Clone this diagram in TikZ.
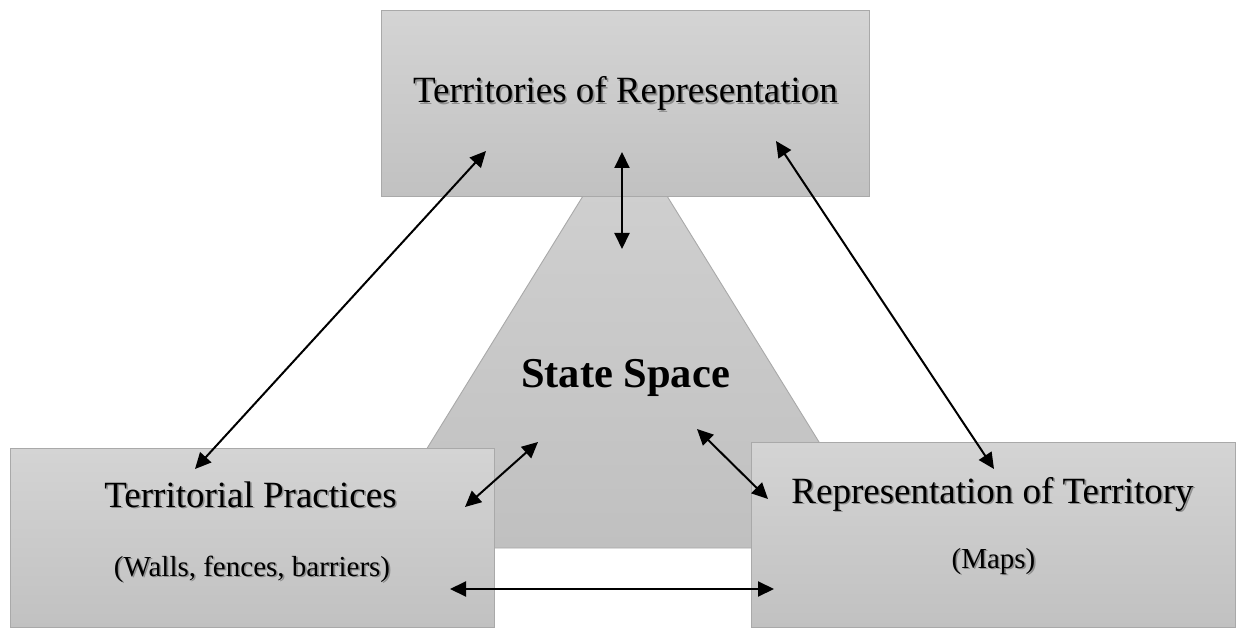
\documentclass[tikz,border=0pt]{standalone}
\usepackage{fontspec}
\setmainfont{Liberation Serif}
\usetikzlibrary{arrows.meta}

\definecolor{boxtop}{HTML}{D4D4D4}
\definecolor{boxbot}{HTML}{C1C1C1}
\definecolor{boxline}{HTML}{A9A9A9}
\definecolor{traptop}{HTML}{CFCFCF}
\definecolor{trapbot}{HTML}{C0C0C0}
\definecolor{textshade}{HTML}{8E8E8E}

\tikzset{
  panel/.style={draw=boxline, line width=0.9pt, top color=boxtop, bottom color=boxbot,
                anchor=north west, inner sep=0pt},
  caption/.style={anchor=base, inner sep=0pt, text=black},
  big/.style={font=\fontsize{37}{42}\selectfont},
  small/.style={font=\fontsize{29}{34}\selectfont},
  link/.style={line width=2pt, {Triangle[length=16pt,width=15pt]}-{Triangle[length=16pt,width=15pt]}},
}

% text with a soft grey drop shadow below and to the right
\newcommand{\shadedtext}[1]{%
  \makebox[0pt][l]{\hspace*{1.6pt}\raisebox{-1.6pt}{\textcolor{textshade}{#1}}}#1}

\begin{document}
\begin{tikzpicture}[x=1pt, y=-1pt]
  \useasboundingbox (0,0) rectangle (1242,628);
  \fill[white] (0,0) rectangle (1242,628);

  % central state space (trapezoid behind the panels)
  \path[draw=boxline, line width=0.9pt, top color=traptop, bottom color=trapbot]
    (586.7,190) -- (663.3,190) -- (884.5,548) -- (365.5,548) -- cycle;

  % panels
  \node[panel, minimum width=488pt, minimum height=186pt] (tor) at (381,10) {};
  \node[panel, minimum width=484pt, minimum height=179pt] (tp)  at (10,448) {};
  \node[panel, minimum width=484pt, minimum height=185pt] (rot) at (751,442) {};

  % texts
  \node[caption, big] (torlabel) at (625.5,103) {\shadedtext{Territories of Representation}};
  \node[caption, font=\fontsize{42.5}{46}\selectfont\bfseries] (state) at (625.5,387) {State Space};
  \node[caption, big] (tplabel) at (250.5,507) {\shadedtext{Territorial Practices}};
  \node[caption, small] (tpnote) at (252,576) {\shadedtext{(Walls, fences, barriers)}};
  \node[caption, big] (rotlabel) at (992.5,503) {\shadedtext{Representation of Territory}};
  \node[caption, small] (rotnote) at (993.5,568) {\shadedtext{(Maps)}};

  % arrow end points
  \coordinate (torL) at (486,151);
  \coordinate (torM) at (622,152);
  \coordinate (torR) at (776,141);
  \coordinate (stT)  at (622,249);
  \coordinate (stL)  at (538,442);
  \coordinate (stR)  at (697,429);
  \coordinate (tpT)  at (195,469);
  \coordinate (tpR)  at (465,507);
  \coordinate (tpB)  at (450,589);
  \coordinate (rotT) at (994,469);
  \coordinate (rotL) at (768,499);
  \coordinate (rotB) at (774,589);

  % relations
  \draw[link] (torL) -- (tpT);
  \draw[link] (torM) -- (stT);
  \draw[link] (torR) -- (rotT);
  \draw[link] (stL) -- (tpR);
  \draw[link] (stR) -- (rotL);
  \draw[link] (tpB) -- (rotB);
\end{tikzpicture}
\end{document}
